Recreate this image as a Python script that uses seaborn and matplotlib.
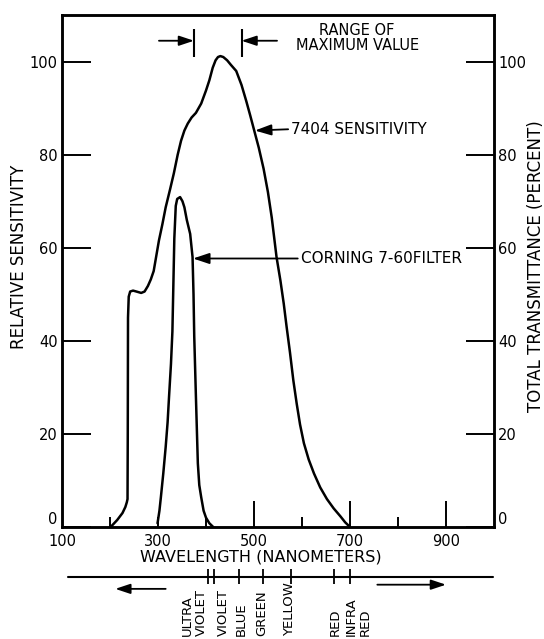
import matplotlib
matplotlib.use("Agg")
import matplotlib.pyplot as plt
import seaborn as sns
import pandas as pd

# 7404 relative sensitivity
sens_wl = [201, 205, 215, 226, 232, 235, 236.5, 237, 237.5, 239, 242, 248, 255, 265, 272, 279, 285,
           291, 296, 302, 309, 316, 325, 333, 341, 348, 355, 362, 370, 379, 390, 400, 407,
           414, 420, 425, 430, 436, 444, 452, 463, 474, 484, 492, 501, 510, 520, 529, 537,
           547, 555, 562, 568, 575, 582, 589, 596, 604, 614, 625, 638, 652, 666, 680, 690, 700]
sens_val = [0, 0.4, 1.5, 3, 4.3, 5.3, 6, 20, 45, 49.5, 50.6, 50.8, 50.6, 50.3, 50.6, 51.8, 53.2,
            55, 58, 61.6, 65, 68.7, 72.5, 76, 80, 83, 85.2, 86.7, 88, 89, 91, 93.8, 96,
            98.7, 100.3, 101, 101.2, 101, 100.3, 99.3, 98, 95, 91.5, 88.5, 85, 81.5, 77, 72, 66.5,
            58, 53, 48, 43, 37.5, 31.5, 26.5, 22, 18, 14.5, 11.5, 8.5, 6, 4, 2.3, 1, 0]

# Corning 7-60 filter transmittance (percent)
filt_wl = [299, 303, 306, 311, 316, 320, 323, 327, 330, 332, 334, 337, 340, 346, 351, 355,
           360, 367, 372, 374, 375.5, 379, 383, 386, 390, 395, 400, 407, 415]
filt_val = [0.8, 3.5, 6.4, 11.5, 17.2, 22.5, 28, 35, 42, 52, 62, 69, 70.5, 70.9, 70, 68.7,
            66, 63, 58, 50, 41, 28, 13.7, 9, 6.4, 3.5, 2, 0.8, 0]

# spectrum bar under the axis
band_marks = [404, 417, 469, 518, 577, 667, 700]
band_names = ["ULTRA\nVIOLET", "VIOLET", "BLUE", "GREEN", "YELLOW", "RED", "INFRA\nRED"]
band_pos = [376, 436, 474, 516, 574, 669, 718]

peak_range = [375, 474]

sns.set_style("white")
plt.rcParams["font.family"] = ["DejaVu Sans"]
plt.rcParams.update({"text.color": "black", "axes.labelcolor": "black",
                     "xtick.color": "black", "ytick.color": "black"})

fig = plt.figure(figsize=(5.44, 6.39), dpi=100)
ax = fig.add_axes([0.114, 0.1753, 0.794, 0.801])

sens = pd.DataFrame({"wl": sens_wl, "val": sens_val})
filt = pd.DataFrame({"wl": filt_wl, "val": filt_val})
sns.lineplot(data=sens, x="wl", y="val", sort=False, estimator=None, color="black", lw=1.8, ax=ax)
sns.lineplot(data=filt, x="wl", y="val", sort=False, estimator=None, color="black", lw=1.8, ax=ax)

ax.set_xlim(100, 1000)
ax.set_ylim(0, 110)
for s in ax.spines.values():
    s.set_linewidth(1.8)
    s.set_color("black")

ax.set_xticks([100, 300, 500, 700, 900])
ax.set_xticks([200, 400, 600, 800], minor=True)
ax.set_yticks(range(0, 101, 20))
ax.tick_params(axis="x", which="major", bottom=True, direction="in", length=19, width=1.4,
               labelsize=10.5, pad=5)
ax.tick_params(axis="x", which="minor", bottom=True, direction="in", length=7, width=1.4)
ax.tick_params(axis="y", left=True, direction="in", length=21, width=1.4, labelsize=10.5, pad=3)
ax.xaxis.get_major_ticks()[0].tick1line.set_visible(False)
ax.xaxis.get_major_ticks()[1].tick1line.set_markersize(7)
ax.get_yticklabels()[0].set_va("bottom")

ax2 = ax.twinx()
ax2.set_ylim(0, 110)
ax2.set_yticks(range(0, 101, 20))
ax2.tick_params(axis="y", right=True, direction="in", length=20, width=1.4, labelsize=10.5, pad=3)
ax2.get_yticklabels()[0].set_va("bottom")
for s in ax2.spines.values():
    s.set_linewidth(1.8)
    s.set_color("black")

ax.set_xlabel("WAVELENGTH (NANOMETERS)", fontsize=11.5)
ax.xaxis.set_label_coords(0.46, -0.059)
ax.xaxis.label.set_va("center")
ax.set_ylabel("RELATIVE SENSITIVITY", fontsize=12)
ax.yaxis.set_label_coords(-0.10, 0.527)
ax.yaxis.label.set_va("center")
ax2.set_ylabel("TOTAL TRANSMITTANCE (PERCENT)", fontsize=12, rotation=90)
ax2.yaxis.set_label_coords(1.097, 0.51)
ax2.yaxis.label.set_va("center")

arrow = dict(arrowstyle="-|>,head_length=0.9,head_width=0.3", color="black", lw=1.3,
             shrinkA=0, shrinkB=0, relpos=(0, 0.5))

# range of maximum value
ax.vlines(peak_range, 101, 107, color="black", lw=1.5)
ax.annotate("", xy=(peak_range[0], 104.5), xytext=(302, 104.5), arrowprops=arrow)
ax.annotate("", xy=(peak_range[1], 104.5), xytext=(548, 104.5), arrowprops=arrow)
ax.text(715, 105, "RANGE OF\nMAXIMUM VALUE", ha="center", va="center", fontsize=10.5, linespacing=1.0)

ax.annotate("7404 SENSITIVITY", xy=(502, 85.2), xytext=(578, 85.5), ha="left", va="center",
            fontsize=11, arrowprops=arrow)
ax.annotate("CORNING 7-60FILTER", xy=(373, 57.7), xytext=(598, 57.7), ha="left", va="center",
            fontsize=11, arrowprops=arrow)

# spectrum bar
ax.plot([113, 998], [-10.7, -10.7], color="black", lw=1.5, clip_on=False)
ax.vlines(band_marks, -12.3, -9.1, color="black", lw=1.3, clip_on=False)
for name, x in zip(band_names, band_pos):
    ax.text(x, -23.5, name, rotation=90, ha="center", va="bottom", fontsize=9.5,
            multialignment="left", linespacing=1.1)
ax.annotate("", xy=(211, -13.3), xytext=(316, -13.3), arrowprops=arrow, annotation_clip=False)
ax.annotate("", xy=(900, -12.4), xytext=(757, -12.4), arrowprops=arrow, annotation_clip=False)

fig.savefig("out.png", dpi=100)
